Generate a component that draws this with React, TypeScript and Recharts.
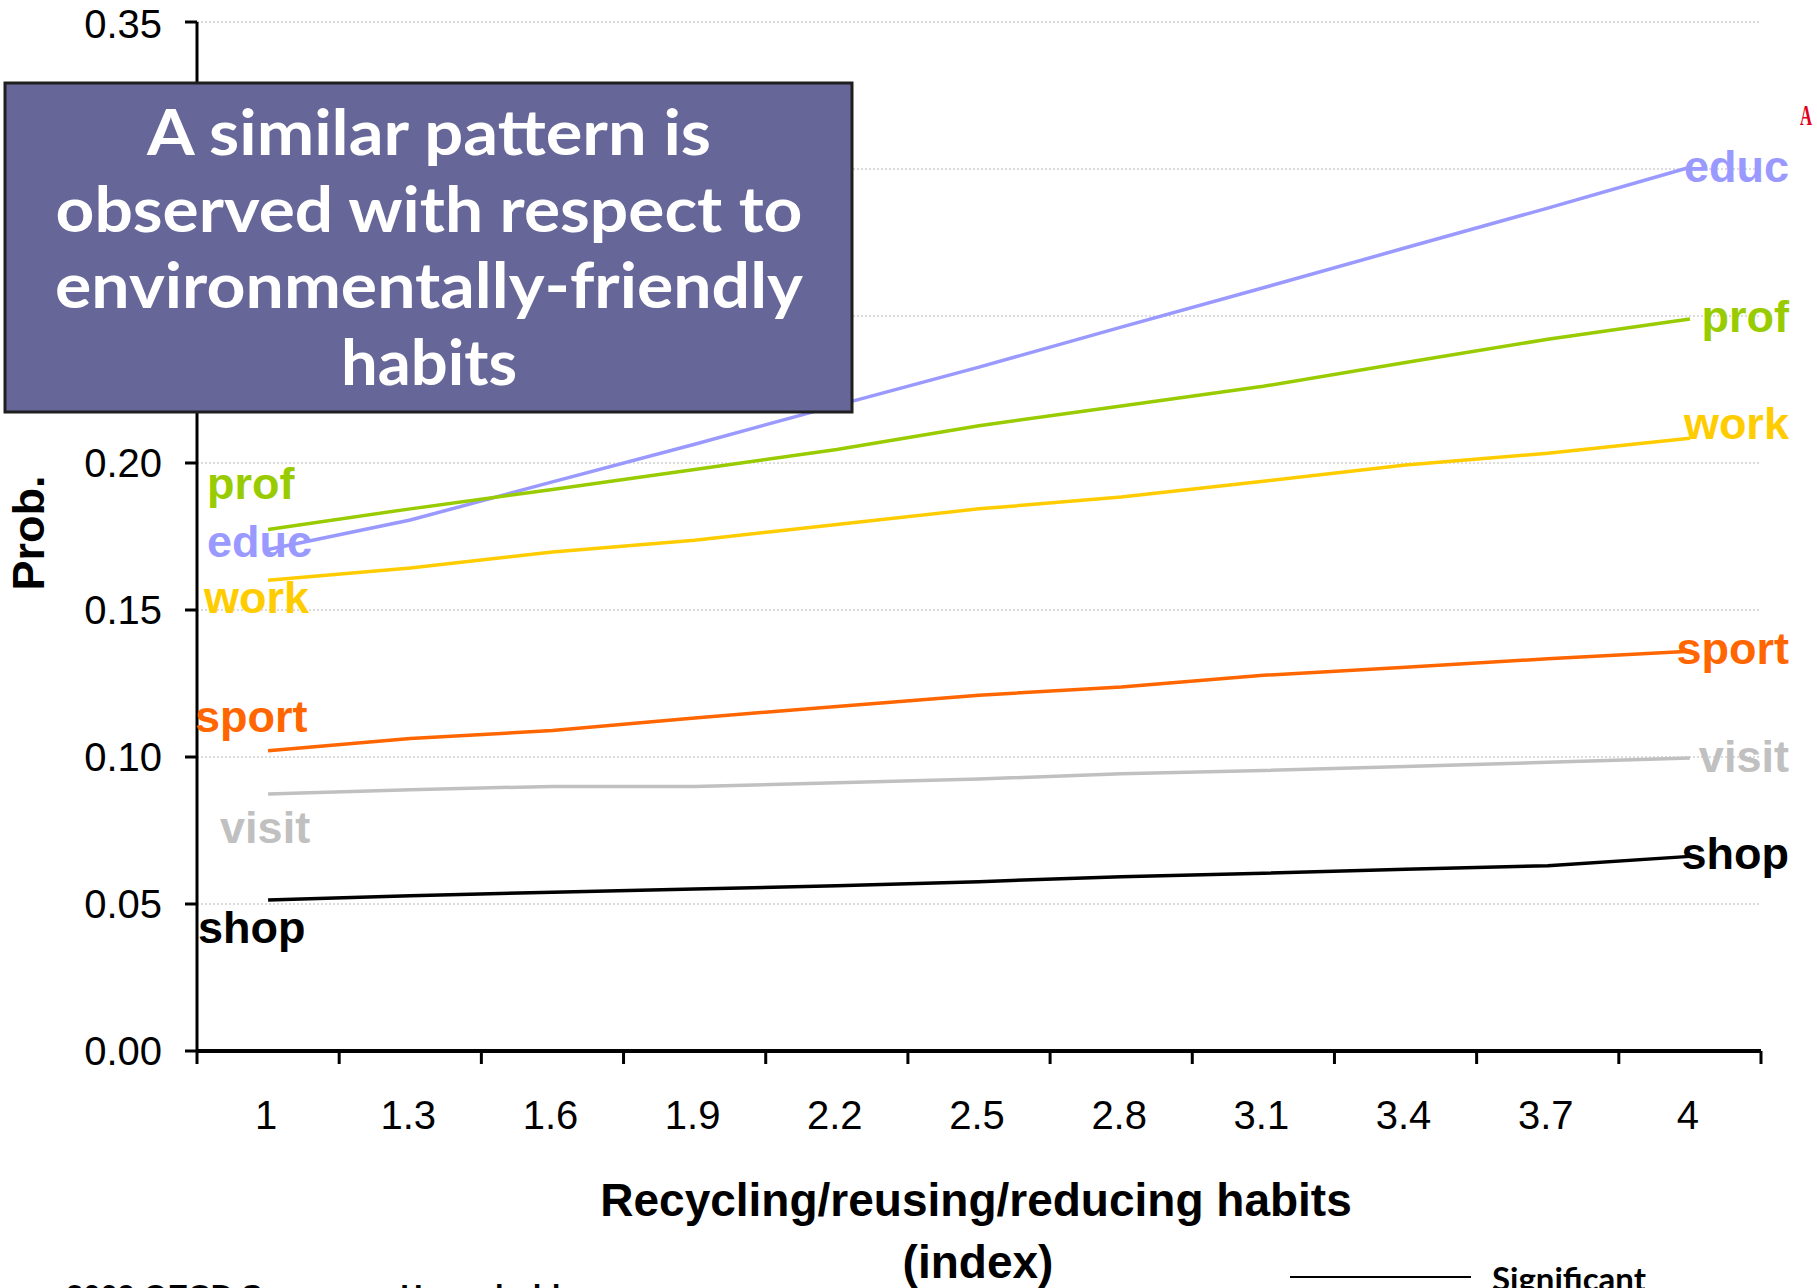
import { LineChart, Line, XAxis, YAxis, CartesianGrid, LabelList } from "recharts";

// recycling/reusing/reducing habits index (categories)
const habitIndex = ["1", "1.3", "1.6", "1.9", "2.2", "2.5", "2.8", "3.1", "3.4", "3.7", "4"];

// predicted probabilities per activity
const educ = [0.1706, 0.1806, 0.1936, 0.2064, 0.2196, 0.2326, 0.2462, 0.2596, 0.2732, 0.2867, 0.3006];
const prof = [0.1774, 0.1844, 0.191, 0.1978, 0.2046, 0.2127, 0.2194, 0.2261, 0.2342, 0.2421, 0.249];
const work = [0.1601, 0.1643, 0.1697, 0.1737, 0.1791, 0.1844, 0.1884, 0.1938, 0.1993, 0.2033, 0.2084];
const sport = [0.1021, 0.1063, 0.109, 0.1133, 0.1172, 0.121, 0.1238, 0.1278, 0.1305, 0.1334, 0.136];
const visit = [0.0874, 0.0889, 0.09, 0.09, 0.0912, 0.0925, 0.0943, 0.0954, 0.0968, 0.0982, 0.0997];
const shop = [0.0514, 0.0528, 0.054, 0.0551, 0.0562, 0.0576, 0.0593, 0.0605, 0.0618, 0.063, 0.0662];

const yTicks = [0, 0.05, 0.1, 0.15, 0.2, 0.25, 0.3, 0.35];

const data = habitIndex.map((h, i) => ({
  habit: h,
  educ: educ[i],
  prof: prof[i],
  work: work[i],
  sport: sport[i],
  visit: visit[i],
  shop: shop[i],
}));

// colour + where the end labels sit relative to the first/last point
const series = [
  { key: "educ", color: "#9999ff", left: { dx: -61, dy: 8 }, rightDy: 15 },
  { key: "prof", color: "#99cc00", left: { dx: -61, dy: -30 }, rightDy: 13 },
  { key: "work", color: "#ffcc00", left: { dx: -64, dy: 33 }, rightDy: 1 },
  { key: "sport", color: "#ff6600", left: { dx: -73, dy: -19 }, rightDy: 13 },
  { key: "visit", color: "#c0c0c0", left: { dx: -48, dy: 49 }, rightDy: 14 },
  { key: "shop", color: "#000000", left: { dx: -70, dy: 43 }, rightDy: 13 },
];

const W = 1817;
const H = 1288;
const LEFT = 197;
const RIGHT = 56;
const TOP = 22;
const PLOT_W = W - LEFT - RIGHT;
const HALF_BAND = PLOT_W / habitIndex.length / 2;
const ARIAL = "'Liberation Sans', Arial, sans-serif";

function XTick(props: any) {
  const { x, y, payload, index } = props;
  const last = index === habitIndex.length - 1;
  return (
    <g>
      <line x1={x - HALF_BAND} y1={y} x2={x - HALF_BAND} y2={y + 13} stroke="#000" strokeWidth={3} />
      {last && <line x1={x + HALF_BAND} y1={y} x2={x + HALF_BAND} y2={y + 13} stroke="#000" strokeWidth={3} />}
      <text x={x - 2} y={y + 78} textAnchor="middle" fontSize={40} fontFamily={ARIAL} fill="#000">
        {payload.value}
      </text>
    </g>
  );
}

function endLabel(s: (typeof series)[number]) {
  return (props: any) => {
    const { x, y, index } = props;
    const style = { fontSize: 45, fontWeight: 700, fontFamily: ARIAL, fill: s.color };
    if (index === 0) {
      return (
        <text x={x + s.left.dx} y={y + s.left.dy} textAnchor="start" style={style}>
          {s.key}
        </text>
      );
    }
    if (index === habitIndex.length - 1) {
      return (
        <text x={x + 99} y={y + s.rightDy} textAnchor="end" style={style}>
          {s.key}
        </text>
      );
    }
    return null;
  };
}

export default function App() {
  return (
    <div style={{ position: "absolute", left: 0, top: 0, width: W, height: H, overflow: "hidden", background: "#fff" }}>
      <LineChart width={W} height={H} data={data} margin={{ top: TOP, right: RIGHT, left: 0, bottom: 0 }}>
        <CartesianGrid vertical={false} stroke="#cfcfcf" strokeDasharray="2 2" strokeWidth={1.5} />
        <XAxis
          dataKey="habit"
          scale="band"
          height={H - TOP - 1029}
          tickSize={0}
          tickMargin={0}
          tickLine={false}
          axisLine={{ stroke: "#000", strokeWidth: 4 }}
          tick={<XTick />}
          interval={0}
        />
        <YAxis
          width={LEFT}
          domain={[0, 0.35]}
          ticks={yTicks}
          tickFormatter={(v: number) => v.toFixed(2)}
          tickSize={12}
          tickMargin={23}
          tickLine={{ stroke: "#000", strokeWidth: 3 }}
          axisLine={{ stroke: "#000", strokeWidth: 3 }}
          tick={{ fontSize: 40, fill: "#000", fontFamily: ARIAL }}
        />
        {series.map((s) => (
          <Line
            key={s.key}
            dataKey={s.key}
            stroke={s.color}
            strokeWidth={3.5}
            dot={false}
            activeDot={false}
            type="linear"
            isAnimationActive={false}
          >
            <LabelList dataKey={s.key} content={endLabel(s)} />
          </Line>
        ))}
      </LineChart>

      <svg width={W} height={H} style={{ position: "absolute", left: 0, top: 0, pointerEvents: "none" }}>
        <text
          transform="translate(44,533) rotate(-90)"
          textAnchor="middle"
          fontSize={45}
          fontWeight={700}
          fontFamily={ARIAL}
          fill="#000"
        >
          Prob.
        </text>
        <text x={976} y={1216} textAnchor="middle" fontSize={46} fontWeight={700} fontFamily={ARIAL} fill="#000">
          Recycling/reusing/reducing habits
        </text>
        <text x={978} y={1278} textAnchor="middle" fontSize={46} fontWeight={700} fontFamily={ARIAL} fill="#000">
          (index)
        </text>

        <rect x={5} y={83} width={847} height={329} fill="#666699" stroke="#1f1f1f" strokeWidth={3} />
        {[
          { t: "A similar pattern is", y: 155, w: 564 },
          { t: "observed with respect to", y: 232, w: 747 },
          { t: "environmentally-friendly", y: 308, w: 748 },
          { t: "habits", y: 385, w: 176 },
        ].map((l) => (
          <text
            key={l.t}
            x={429}
            y={l.y}
            textAnchor="middle"
            fontSize={63}
            fontWeight={700}
            fontFamily="Lato, 'Open Sans', sans-serif"
            fill="#fff"
            textLength={l.w}
            lengthAdjust="spacingAndGlyphs"
          >
            {l.t}
          </text>
        ))}

        <text x={1800} y={125} fontSize={30} fontWeight={700} fontFamily="'Liberation Serif', serif" fill="#e0001a" textLength={12} lengthAdjust="spacingAndGlyphs">
          A
        </text>

        <text x={66} y={1307} fontSize={31} fontWeight={700} fontFamily={ARIAL} fill="#000">
          2009 OECD Survey on Household
        </text>
        <line x1={1290} y1={1277} x2={1471} y2={1277} stroke="#000" strokeWidth={2} />
        <text x={1492} y={1291} fontSize={32} fontWeight={700} fontFamily="Lato, 'Open Sans', sans-serif" fill="#000" textLength={154} lengthAdjust="spacingAndGlyphs">
          Significant
        </text>
      </svg>
    </div>
  );
}
